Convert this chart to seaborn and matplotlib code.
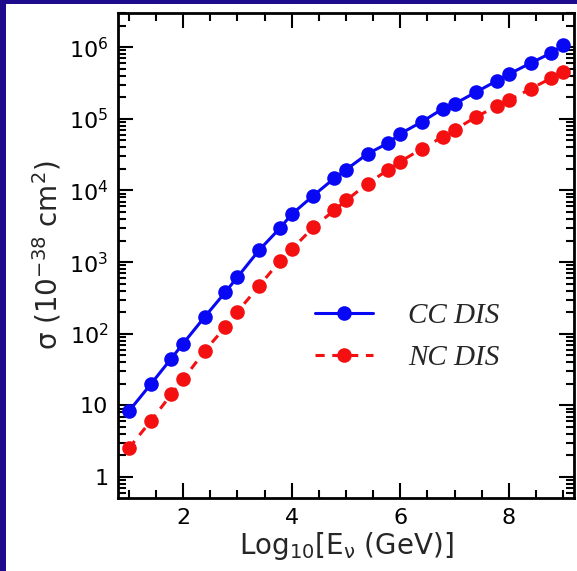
import math
import matplotlib
matplotlib.use('Agg')
import matplotlib.pyplot as plt
from matplotlib.patches import Rectangle
from matplotlib.ticker import FixedLocator, LogLocator, MultipleLocator, FuncFormatter, NullFormatter
import pandas as pd
import seaborn as sns

# log10 of neutrino energy (GeV)
log_energy = [1.0, 1.4, 1.78, 2.0, 2.4, 2.78, 3.0, 3.4, 3.78, 4.0, 4.4, 4.78, 5.0,
              5.4, 5.78, 6.0, 6.4, 6.78, 7.0, 7.4, 7.78, 8.0, 8.4, 8.78, 9.0]
# cross sections in units of 1e-38 cm^2
cc_sigma = [8.3, 19.6, 45, 73, 173, 383, 617, 1470, 2960, 4660, 8500, 14700, 19500,
            32600, 46000, 62000, 91000, 138000, 162000, 237000, 340000, 420000,
            600000, 830000, 1070000]
nc_sigma = [2.53, 6.0, 14.2, 23, 58, 125, 203, 465, 1030, 1510, 3070, 5260, 7250,
            12500, 19500, 25300, 38300, 56000, 70000, 107000, 150000, 182000,
            262000, 370000, 450000]
processes = ['CC DIS', 'NC DIS']
y_ticks = [1, 10, 1e2, 1e3, 1e4, 1e5, 1e6]

df = pd.DataFrame({
    'logE': log_energy * 2,
    'sigma': cc_sigma + nc_sigma,
    'process': [processes[0]] * len(cc_sigma) + [processes[1]] * len(nc_sigma),
})

sns.set_style('ticks')
plt.rcParams['font.family'] = ['DejaVu Sans']
plt.rcParams['mathtext.fontset'] = 'dejavusans'

fig = plt.figure(figsize=(5.77, 5.71), dpi=100)
fig.patch.set_facecolor('white')
navy = '#1e0c8c'
fig.add_artist(Rectangle((0, 0), 6 / 577, 1, transform=fig.transFigure, color=navy, lw=0))
fig.add_artist(Rectangle((0, 1 - 4 / 571), 1, 4 / 571, transform=fig.transFigure, color=navy, lw=0))

ax = fig.add_axes([118 / 577, 73 / 571, 456 / 577, 485 / 571])

pal = {'CC DIS': '#0808f4', 'NC DIS': '#f41010'}
sns.lineplot(data=df, x='logE', y='sigma', hue='process', style='process',
             palette=pal, markers={'CC DIS': 'o', 'NC DIS': 'o'},
             dashes={'CC DIS': '', 'NC DIS': (3, 2.5)},
             markersize=10.5, markeredgewidth=0, linewidth=2.2, ax=ax)

ax.set_yscale('log')
ax.set_xlim(0.8, 9.2)
ax.set_ylim(0.51, 3.0e6)

ax.xaxis.set_major_locator(MultipleLocator(2))
ax.xaxis.set_minor_locator(MultipleLocator(0.5))
ax.yaxis.set_major_locator(FixedLocator(y_ticks))
ax.yaxis.set_minor_locator(LogLocator(base=10, subs=range(2, 10), numticks=20))
ax.yaxis.set_minor_formatter(NullFormatter())


def ylab(v, pos):
    if v < 100:
        return '%d' % v
    return r'$10^{%d}$' % round(math.log10(v))


ax.yaxis.set_major_formatter(FuncFormatter(ylab))

ax.tick_params(which='both', direction='in', top=True, right=True, width=1.5, colors='black')
ax.tick_params(which='major', length=11, labelsize=16, pad=7)
ax.tick_params(which='minor', length=5.5)
for s in ax.spines.values():
    s.set_linewidth(2)
    s.set_color('black')

ax.set_xlabel(r'Log$_{\mathregular{10}}$[E$_{\mathregular{ν}}$ (GeV)]', fontsize=20, labelpad=2)
ax.set_ylabel(r'σ (10$^{\mathregular{-38}}$ cm$^{\mathregular{2}}$)', fontsize=20, labelpad=4)

handles, labels = ax.get_legend_handles_labels()
ax.legend(handles, labels, loc='center left', bbox_to_anchor=(0.432, 0.332),
          frameon=False, handlelength=2.0, handletextpad=1.2, labelspacing=0.55,
          borderpad=0, borderaxespad=0,
          prop={'family': 'Liberation Serif', 'style': 'italic', 'size': 21})

fig.savefig('out.png', dpi=100, facecolor=fig.get_facecolor())
